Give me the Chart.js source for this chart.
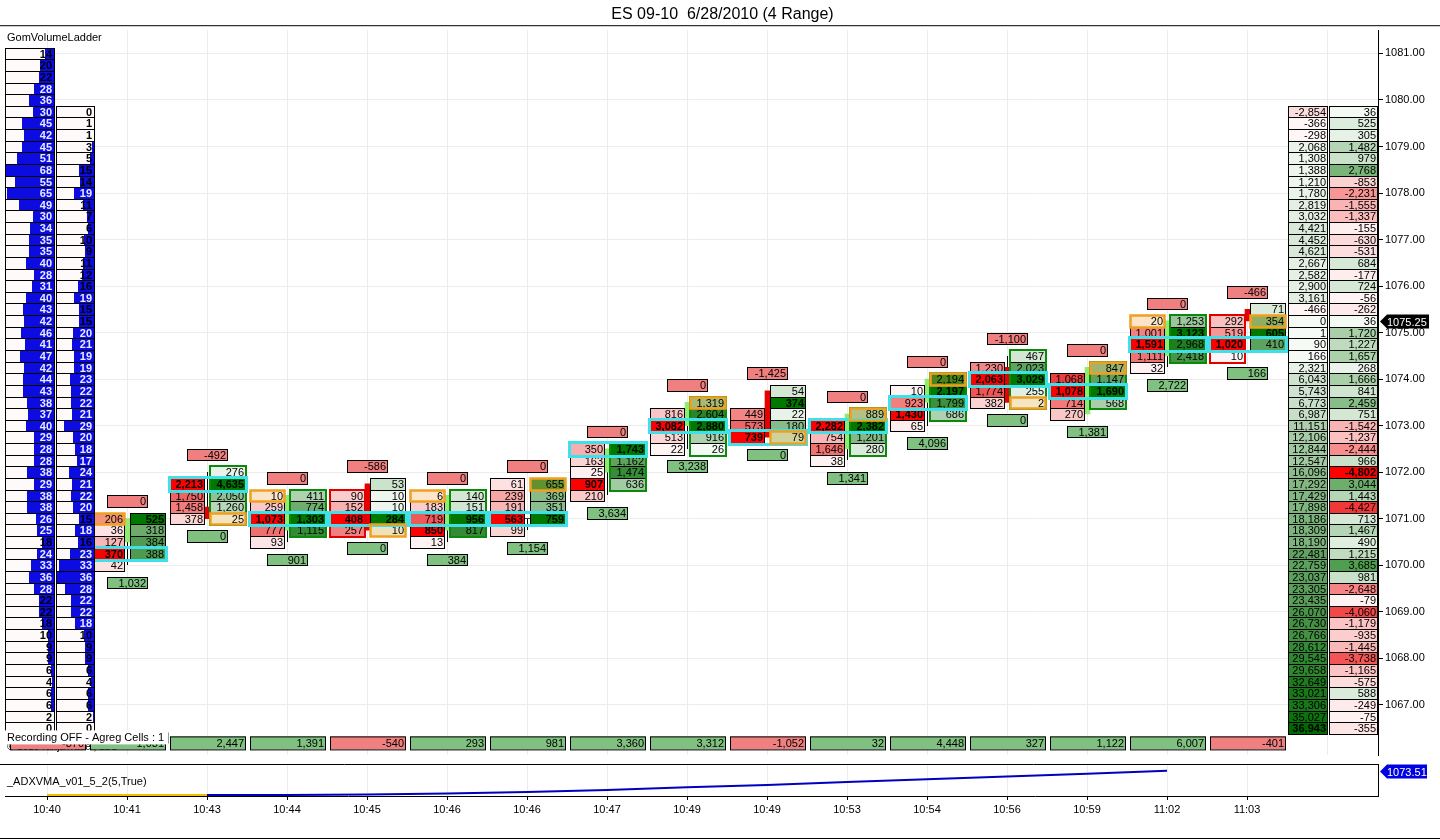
<!DOCTYPE html>
<html>
<head>
<meta charset="utf-8">
<title>ES 09-10 footprint</title>
<script src="https://cdn.jsdelivr.net/npm/chart.js@4.4.0/dist/chart.umd.min.js"></script>
<style>
  html, body { margin: 0; padding: 0; background: #fff; overflow: hidden; }
  #wrap { position: relative; width: 1440px; height: 840px; }
  #main { position: absolute; left: 0; top: 0; }
  #lower { position: absolute; left: 0; top: 764px; }
</style>
</head>
<body>
<div id="wrap">
  <canvas id="main" width="1440" height="764"></canvas>
  <canvas id="lower" width="1440" height="76"></canvas>
</div>
<script>
const times = ['10:40', '10:41', '10:43', '10:44', '10:45', '10:46', '10:46', '10:47', '10:49', '10:49', '10:53', '10:54', '10:56', '10:59', '11:02', '11:03'];

// footprint columns, top price then one volume per 0.25 tick going down
const bidTop = [null, 1071.00, 1071.75, 1071.50, 1071.50, 1071.50, 1071.75, 1072.50, 1073.25, 1073.25, 1073.00, 1073.75, 1074.25, 1074.00, 1075.25, 1075.25];
const bidVol = [[], [206, 36, 127, 370, 42], [2213, 1750, 1458, 378], [10, 259, 1073, 777, 93], [90, 152, 408, 257], [6, 183, 719, 850, 13], [61, 239, 191, 563, 99], [350, 163, 25, 907, 210], [816, 3082, 513, 22], [449, 573, 739], [2282, 754, 1646, 38], [10, 923, 1430, 65], [1230, 2063, 1774, 382], [1068, 1078, 714, 270], [20, 1001, 1591, 1111, 32], [292, 519, 1020, 10]];
const askTop = [null, 1071.00, 1072.00, 1071.50, 1071.75, 1071.50, 1071.75, 1072.50, 1073.50, 1073.75, 1073.25, 1074.00, 1074.50, 1074.25, 1075.25, 1075.50];
const askVol = [[], [525, 318, 384, 388], [276, 4635, 2050, 1260, 25], [411, 774, 1303, 1115], [53, 10, 10, 284, 10], [140, 151, 956, 817], [655, 369, 351, 759], [1743, 1162, 1474, 636], [1319, 2604, 2880, 916, 26], [54, 374, 22, 180, 79], [889, 2382, 1201, 280], [2194, 2197, 1799, 686], [467, 2023, 3029, 255, 2], [847, 1147, 1690, 568], [1253, 3123, 2968, 2418], [71, 354, 605, 410]];
const pocPrice = [null, 1070.25, 1071.75, 1071.00, 1071.00, 1071.00, 1071.00, 1072.50, 1073.00, 1072.75, 1073.00, 1073.50, 1074.00, 1073.75, 1074.75, 1074.75];
const frameSide = ['', '', 'ask', 'ask', 'bid', 'ask', '', 'ask', 'ask', '', 'ask', 'ask', 'ask', 'ask', 'ask', 'bid'];
const orangeBar = [1, 2, 3, 4, 5, 6, 8, 9, 10, 11, 12, 13, 14, 15];
const orangeSide = ['bid', 'ask', 'bid', 'ask', 'bid', 'ask', 'ask', 'ask', 'ask', 'ask', 'ask', 'ask', 'bid', 'ask'];
const orangePrice = [1071.00, 1071.00, 1071.50, 1070.75, 1071.50, 1071.75, 1073.50, 1072.75, 1073.25, 1074.00, 1073.50, 1074.25, 1075.25, 1075.25];
const deltaHigh = [null, 0, -492, 0, -586, 0, 0, 0, 0, -1425, 0, 0, -1100, 0, 0, -466];
const deltaLow = [null, 1032, 0, 901, 0, 384, 1154, 3634, 3238, 0, 1341, 4096, 0, 1381, 2722, 166];
const barDelta = [-870, 1031, 2447, 1391, -540, 293, 981, 3360, 3312, -1052, 32, 4448, 327, 1122, 6007, -401];

const candleOpen = [null, 1070.50, 1071.25, 1070.75, 1071.75, 1070.75, 1071.00, 1072.00, 1073.00, 1073.75, 1072.50, 1073.50, 1074.25, 1073.25, 1074.50, 1075.50];
const candleClose = [null, 1071.00, 1071.00, 1071.50, 1070.75, 1071.50, 1071.00, 1072.50, 1073.50, 1072.75, 1073.25, 1074.00, 1073.50, 1074.25, 1075.25, 1075.25];
const candleHigh = [null, 1071.00, 1072.00, 1071.50, 1071.75, 1071.50, 1071.00, 1072.50, 1073.50, 1073.75, 1073.25, 1074.00, 1074.50, 1074.25, 1075.25, 1075.50];
const candleLow = [null, 1070.00, 1071.00, 1070.50, 1070.75, 1070.50, 1070.75, 1071.50, 1072.50, 1072.75, 1072.25, 1073.00, 1073.50, 1073.25, 1074.25, 1075.25];

// GomVolumeLadder (left)
const ladderATop = 1081.00;
const ladderA = [14, 20, 22, 28, 36, 30, 45, 42, 45, 51, 68, 55, 65, 49, 30, 34, 35, 35, 40, 28, 31, 40, 43, 42, 46, 41, 47, 42, 44, 43, 38, 37, 40, 29, 28, 28, 38, 29, 38, 38, 26, 25, 18, 24, 33, 36, 28, 22, 22, 18, 10, 9, 9, 6, 4, 6, 6, 2, 0];
const ladderBTop = 1079.75;
const ladderB = [0, 1, 1, 3, 5, 15, 14, 19, 11, 7, 6, 10, 9, 11, 12, 16, 19, 15, 15, 20, 21, 19, 19, 23, 22, 22, 21, 29, 20, 18, 17, 24, 21, 22, 20, 15, 18, 16, 23, 33, 36, 28, 22, 22, 18, 10, 9, 9, 6, 4, 6, 6, 2, 0];

// price ladder (right)
const sideTop = 1079.75;
const cumDelta = [-2854, -366, -298, 2068, 1308, 1388, 1210, 1780, 2819, 3032, 4421, 4452, 4621, 2667, 2582, 2900, 3161, -466, 0, 1, 90, 166, 2321, 6043, 5743, 6773, 6987, 11151, 12106, 12844, 12547, 16096, 17292, 17429, 17898, 18186, 18309, 18190, 22481, 22759, 23037, 23305, 23435, 26070, 26730, 26766, 28612, 29545, 29658, 32649, 33021, 33306, 35027, 36943];
const levelDelta = [36, 525, 305, 1482, 979, 2768, -853, -2231, -1555, -1337, -155, -630, -531, 684, -177, 724, -56, -262, 36, 1720, 1227, 1657, 268, 1666, 841, 2459, 751, -1542, -1237, -2444, 966, -4802, 3044, 1443, -4427, 713, 1467, 490, 1215, 3685, 981, -2648, -79, -4060, -1179, -935, -1445, -3738, -1165, -575, 588, -249, -75, -355];

const adxValues = [1070.70, 1070.70, 1070.70, 1070.70, 1070.75, 1070.86, 1071.05, 1071.28, 1071.60, 1071.86, 1072.20, 1072.53, 1072.83, 1073.14, 1073.51];
const lastPrice = 1075.25;

const FONT = '"Liberation Sans", Arial, Helvetica, sans-serif';
const BID_LO = [255, 245, 245], BID_HI = [235, 60, 60], BID_MAX = [255, 0, 0];
const ASK_LO = [245, 250, 245], ASK_HI = [20, 120, 20], ASK_MAX = [0, 120, 0];
const ORANGE = [240, 170, 40];

function mixA(c0, c1, t) {
  t = Math.max(0, Math.min(1, t));
  return c0.map((v, k) => Math.round(v + (c1[k] - v) * t));
}
const css = c => 'rgb(' + c.join(',') + ')';
const fmt = v => v.toLocaleString('en-US');

function isOrange(i, side, p) {
  for (let k = 0; k < orangeBar.length; k++) {
    if (orangeBar[k] === i && orangeSide[k] === side && orangePrice[k] === p) return true;
  }
  return false;
}

function cell(ctx, x0, x1, t, b, fill, text, bold, color) {
  ctx.fillStyle = fill;
  ctx.fillRect(x0, t, x1 - x0, b - t);
  ctx.strokeStyle = '#000';
  ctx.lineWidth = 1;
  ctx.strokeRect(x0 + 0.5, t + 0.5, x1 - x0 - 1, b - t);
  if (text !== null) {
    ctx.fillStyle = color || '#000';
    ctx.font = (bold ? 'bold ' : '') + '11px ' + FONT;
    ctx.textAlign = 'right';
    ctx.textBaseline = 'middle';
    ctx.fillText(text, x1 - 2, (t + b) / 2 + 1);
  }
}

const footprintPlugin = {
  id: 'footprint',
  beforeDatasetsDraw(chart) {
    const {ctx, scales: {x, y}} = chart;
    ctx.save();
    ctx.strokeStyle = '#000';
    ctx.lineWidth = 1;
    for (let i = 1; i < times.length; i++) {
      const cx = Math.round(x.getPixelForValue(i)) + 0.5;
      ctx.beginPath();
      ctx.moveTo(cx, Math.round(y.getPixelForValue(candleHigh[i])));
      ctx.lineTo(cx, Math.round(y.getPixelForValue(candleLow[i])));
      ctx.stroke();
    }
    ctx.restore();
  },
  afterDatasetsDraw(chart) {
    const {ctx, chartArea: a, scales: {x, y}} = chart;
    const row = p => [Math.round(y.getPixelForValue(p + 0.125)), Math.round(y.getPixelForValue(p - 0.125))];
    ctx.save();

    // frame line under the title
    ctx.strokeStyle = '#000';
    ctx.lineWidth = 1;
    ctx.beginPath();
    ctx.moveTo(0, a.top - 4.5);
    ctx.lineTo(chart.width, a.top - 4.5);
    ctx.stroke();

    // copyright under the first strip cells
    ctx.fillStyle = '#000';
    ctx.font = '10px ' + FONT;
    ctx.textAlign = 'left';
    ctx.textBaseline = 'middle';
    ctx.fillText('\u00a9 2010 NinjaTrader, LLC', a.left + 2, a.bottom - 8);

    // bar delta strip along the bottom
    for (let i = 0; i < times.length; i++) {
      const c = Math.round(x.getPixelForValue(i));
      cell(ctx, c - 37, c + 39, a.bottom - 19, a.bottom - 6, barDelta[i] >= 0 ? '#80c080' : '#f08080', fmt(barDelta[i]), false);
    }

    for (let i = 1; i < times.length; i++) {
      const c = Math.round(x.getPixelForValue(i));
      const bx0 = c - 37, bx1 = c - 2, ax0 = c + 3, ax1 = c + 39;
      const bMax = Math.max(...bidVol[i]);
      const aMax = Math.max(...askVol[i]);

      bidVol[i].forEach((v, k) => {
        const p = bidTop[i] - k * 0.25;
        const [t, b] = row(p);
        let col = v === bMax ? BID_MAX : mixA(BID_LO, BID_HI, v / bMax);
        if (isOrange(i, 'bid', p)) col = mixA(col, ORANGE, 0.2);
        cell(ctx, bx0, bx1, t, b, css(col), fmt(v), v === bMax);
      });
      askVol[i].forEach((v, k) => {
        const p = askTop[i] - k * 0.25;
        const [t, b] = row(p);
        let col = v === aMax ? ASK_MAX : mixA(ASK_LO, ASK_HI, v / aMax);
        if (isOrange(i, 'ask', p)) col = mixA(col, ORANGE, 0.25);
        cell(ctx, ax0, ax1, t, b, css(col), fmt(v), v === aMax);
      });

      // delta boxes above the high and below the low
      const hi = Math.max(bidTop[i], askTop[i]);
      const lo = Math.min(bidTop[i] - (bidVol[i].length - 1) * 0.25, askTop[i] - (askVol[i].length - 1) * 0.25);
      let [t, b] = row(hi + 0.375);
      cell(ctx, c - 20, c + 21, t, b, '#f08080', fmt(deltaHigh[i]), false);
      [t, b] = row(lo - 0.375);
      cell(ctx, c - 20, c + 21, t, b, '#80c080', fmt(deltaLow[i]), false);

      if (frameSide[i]) {
        const ask = frameSide[i] === 'ask';
        const top = ask ? askTop[i] : bidTop[i];
        const n = ask ? askVol[i].length : bidVol[i].length;
        const ft = row(top)[0], fb = row(top - (n - 1) * 0.25)[1];
        const x0 = ask ? ax0 : bx0, x1 = ask ? ax1 : bx1;
        ctx.lineWidth = 2;
        ctx.strokeStyle = ask ? '#0a8a0a' : '#e00000';
        ctx.strokeRect(x0, ft, x1 - x0, fb - ft + 1);
      }

      [t, b] = row(pocPrice[i]);
      ctx.lineWidth = 3;
      ctx.strokeStyle = '#3ee0ea';
      ctx.strokeRect(bx0 - 0.5, t - 0.5, ax1 - bx0 + 1, b - t + 2);
    }

    ctx.lineWidth = 2.5;
    ctx.strokeStyle = '#f0a020';
    for (let k = 0; k < orangeBar.length; k++) {
      const c = Math.round(x.getPixelForValue(orangeBar[k]));
      const x0 = orangeSide[k] === 'ask' ? c + 3 : c - 37;
      const x1 = orangeSide[k] === 'ask' ? c + 39 : c - 2;
      const [t, b] = row(orangePrice[k]);
      ctx.strokeRect(x0 + 0.5, t + 0.5, x1 - x0 - 1, b - t);
    }

    // left volume ladder
    const L0 = a.left, L1 = a.left + 50, L2 = a.left + 51, L3 = a.left + 90;
    const maxA = Math.max(...ladderA), maxB = Math.max(...ladderB);
    const ladderCell = (x0, x1, p, v, max) => {
      const [t, b] = row(p);
      ctx.fillStyle = '#fffafa';
      ctx.fillRect(x0, t, x1 - x0, b - t);
      const w = Math.round((x1 - x0) * v / max);
      ctx.fillStyle = '#0c0ce0';
      ctx.fillRect(x1 - w, t, w, b - t);
      ctx.strokeStyle = '#000';
      ctx.lineWidth = 1;
      ctx.strokeRect(x0 + 0.5, t + 0.5, x1 - x0 - 1, b - t);
      ctx.fillStyle = w > 17 ? '#e8ecff' : '#000';
      ctx.font = 'bold 11px ' + FONT;
      ctx.textAlign = 'right';
      ctx.textBaseline = 'middle';
      ctx.fillText(String(v), x1 - 3, (t + b) / 2 + 1);
    };
    ladderA.forEach((v, k) => ladderCell(L0, L1, ladderATop - k * 0.25, v, maxA));
    ladderB.forEach((v, k) => ladderCell(L2, L3, ladderBTop - k * 0.25, v, maxB));

    // right price ladder
    const R0 = a.right - 90, R1 = a.right - 50, R2 = a.right - 49, R3 = a.right;
    const cumMax = Math.max(...cumDelta);
    const lvlMax = Math.max(...levelDelta.map(Math.abs));
    cumDelta.forEach((v, k) => {
      const p = sideTop - k * 0.25;
      const [t, b] = row(p);
      const col = v >= 0 ? mixA([246, 250, 246], [0, 105, 0], v / cumMax) : mixA([255, 250, 250], [240, 100, 100], -v / 15000);
      cell(ctx, R0, R1, t, b, css(col), fmt(v), v === cumMax);
      const d = levelDelta[k];
      const dc = d >= 0 ? mixA([245, 250, 245], [30, 130, 30], d / lvlMax)
        : (-d === lvlMax ? [255, 0, 0] : mixA([255, 245, 245], [240, 40, 40], -d / lvlMax));
      cell(ctx, R2, R3, t, b, css(dc), fmt(d), -d === lvlMax);
    });

    // texts and tags
    ctx.fillStyle = '#000';
    ctx.font = '11px ' + FONT;
    ctx.textAlign = 'left';
    ctx.textBaseline = 'middle';
    ctx.fillText('GomVolumeLadder', a.left + 2, a.top + 8);

    ctx.fillStyle = '#fff';
    ctx.fillRect(a.left, a.bottom - 25, 163, 14);
    ctx.strokeStyle = '#999';
    ctx.lineWidth = 1;
    ctx.beginPath();
    ctx.moveTo(a.left + 163.5, a.bottom - 23);
    ctx.lineTo(a.left + 163.5, a.bottom - 12);
    ctx.stroke();
    ctx.fillStyle = '#000';
    ctx.font = '11px ' + FONT;
    ctx.fillText('Recording OFF - Agreg Cells : 1', a.left + 2, a.bottom - 17);

    const yc = Math.round(y.getPixelForValue(lastPrice)) + 0.5;
    ctx.fillStyle = '#000';
    ctx.beginPath();
    ctx.moveTo(a.right + 2, yc);
    ctx.lineTo(a.right + 9, yc - 7);
    ctx.lineTo(a.right + 51, yc - 7);
    ctx.lineTo(a.right + 51, yc + 7);
    ctx.lineTo(a.right + 9, yc + 7);
    ctx.closePath();
    ctx.fill();
    ctx.fillStyle = '#fff';
    ctx.fillText(lastPrice.toFixed(2), a.right + 9, yc + 1);

    ctx.restore();
  }
};

const candleData = [];
const candleColors = [];
for (let i = 1; i < times.length; i++) {
  candleData.push({x: i + 0.00625, y: [candleOpen[i], candleClose[i]]});
  candleColors.push(candleClose[i] > candleOpen[i] ? '#90ec70' : (candleClose[i] < candleOpen[i] ? '#e80000' : '#000'));
}

new Chart(document.getElementById('main'), {
  type: 'bar',
  data: {
    datasets: [{
      label: 'ES 09-10',
      data: candleData,
      backgroundColor: candleColors,
      borderWidth: 0,
      barThickness: 5
    }]
  },
  options: {
    responsive: false,
    animation: false,
    layout: {padding: {left: 5, right: 0, top: 0, bottom: 0}},
    plugins: {
      legend: {display: false},
      tooltip: {enabled: false},
      title: {
        display: true,
        text: 'ES 09-10  6/28/2010 (4 Range)',
        color: '#000',
        font: {family: FONT, size: 16, weight: 'normal'},
        padding: {top: 5, bottom: 6}
      }
    },
    scales: {
      x: {
        type: 'linear',
        min: -0.525,
        max: 16.6375,
        offset: false,
        ticks: {display: false, stepSize: 1, includeBounds: false},
        grid: {color: '#ececec', drawTicks: false, offset: false},
        border: {display: false}
      },
      y: {
        position: 'right',
        min: 1065.91,
        max: 1081.5,
        beginAtZero: false,
        ticks: {
          stepSize: 1,
          includeBounds: false,
          color: '#000',
          padding: 2,
          font: {family: FONT, size: 11},
          callback: v => (v < 1066.5 ? null : v.toFixed(2))
        },
        grid: {color: '#ececec', tickColor: '#000', tickLength: 5},
        border: {color: '#000'},
        afterFit(s) { s.width = 62; }
      }
    }
  },
  plugins: [footprintPlugin]
});

const lowerPlugin = {
  id: 'lowerPanel',
  afterDraw(chart) {
    const {ctx, chartArea: a, scales: {y}} = chart;
    ctx.save();
    ctx.strokeStyle = '#000';
    ctx.lineWidth = 1;
    ctx.beginPath();
    ctx.moveTo(0, 0.5);
    ctx.lineTo(a.right, 0.5);
    ctx.stroke();
    ctx.beginPath();
    ctx.moveTo(0, chart.height - 1.5);
    ctx.lineTo(chart.width, chart.height - 1.5);
    ctx.stroke();

    ctx.fillStyle = '#000';
    ctx.font = '11px ' + FONT;
    ctx.textAlign = 'left';
    ctx.textBaseline = 'middle';
    ctx.fillText('_ADXVMA_v01_5_2(5,True)', a.left + 2, 18);

    const last = adxValues[adxValues.length - 1];
    const yc = Math.round(y.getPixelForValue(last)) + 0.5;
    ctx.fillStyle = '#0000e0';
    ctx.beginPath();
    ctx.moveTo(a.right + 2, yc);
    ctx.lineTo(a.right + 9, yc - 7);
    ctx.lineTo(a.right + 49, yc - 7);
    ctx.lineTo(a.right + 49, yc + 7);
    ctx.lineTo(a.right + 9, yc + 7);
    ctx.closePath();
    ctx.fill();
    ctx.fillStyle = '#fff';
    ctx.fillText(last.toFixed(2), a.right + 9, yc + 1);
    ctx.restore();
  }
};

new Chart(document.getElementById('lower'), {
  type: 'line',
  data: {
    datasets: [{
      label: '_ADXVMA_v01_5_2(5,True)',
      data: adxValues.map((v, i) => ({x: i, y: v})),
      borderColor: '#0000c0',
      borderWidth: 2,
      pointRadius: 0,
      tension: 0,
      clip: false,
      segment: {borderColor: c => (c.p0DataIndex < 2 ? '#f0c000' : '#0000c0')}
    }]
  },
  options: {
    responsive: false,
    animation: false,
    layout: {padding: {left: 5, right: 0, top: 0, bottom: 0}},
    plugins: {legend: {display: false}, tooltip: {enabled: false}},
    scales: {
      x: {
        type: 'linear',
        min: -0.525,
        max: 16.6375,
        ticks: {
          stepSize: 1,
          includeBounds: false,
          autoSkip: false,
          maxRotation: 0,
          color: '#000',
          padding: 3,
          font: {family: FONT, size: 11},
          callback: v => times[v]
        },
        grid: {color: '#ececec', tickColor: '#000', tickLength: 4},
        border: {color: '#000'},
        afterFit(s) { s.height = 44; }
      },
      y: {
        position: 'right',
        min: 1070.58,
        max: 1074.28,
        ticks: {display: false},
        grid: {display: false},
        border: {color: '#000'},
        afterFit(s) { s.width = 62; }
      }
    }
  },
  plugins: [lowerPlugin]
});
</script>
</body>
</html>
